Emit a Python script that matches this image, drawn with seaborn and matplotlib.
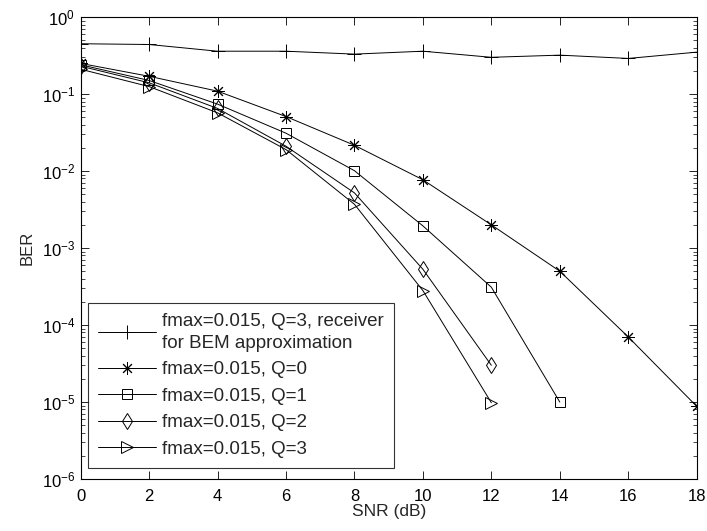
import numpy as np
import pandas as pd
import matplotlib
matplotlib.use("Agg")
import matplotlib.pyplot as plt
import seaborn as sns
from matplotlib.ticker import LogLocator, FixedLocator, NullFormatter

snr_full = [0, 2, 4, 6, 8, 10, 12, 14, 16, 18]
ber_bem = [0.45, 0.44, 0.36, 0.36, 0.33, 0.36, 0.30, 0.32, 0.29, 0.35]
snr_q0 = [0, 2, 4, 6, 8, 10, 12, 14, 16, 18]
ber_q0 = [0.25, 0.17, 0.109, 0.051, 0.0216, 0.0077, 0.0020, 5.0e-4, 7.0e-5, 8.8e-6]
snr_q1 = [0, 2, 4, 6, 8, 10, 12, 14]
ber_q1 = [0.24, 0.15, 0.074, 0.031, 0.0101, 0.00194, 3.1e-4, 1.0e-5]
snr_q2 = [0, 2, 4, 6, 8, 10, 12]
ber_q2 = [0.23, 0.14, 0.065, 0.021, 0.0052, 5.3e-4, 3.0e-5]
snr_q3 = [0, 2, 4, 6, 8, 10, 12]
ber_q3 = [0.21, 0.125, 0.057, 0.019, 0.0037, 2.8e-4, 9.8e-6]

labels = ["fmax=0.015, Q=3, receiver\nfor BEM approximation",
          "fmax=0.015, Q=0", "fmax=0.015, Q=1",
          "fmax=0.015, Q=2", "fmax=0.015, Q=3"]
markers = ["+", (8, 2, 0), "s", "d", ">"]
xticks = list(range(0, 19, 2))

sns.set_theme(style="white")
plt.rcParams['font.family'] = ['Liberation Sans', 'DejaVu Sans']
plt.rcParams['mathtext.fontset'] = 'custom'
plt.rcParams['mathtext.rm'] = 'Liberation Sans'

fig = plt.figure(figsize=(7.07, 5.31), dpi=100)
ax = fig.add_axes([0.1141, 0.0979, 0.8713, 0.870])

series = [(snr_full, ber_bem), (snr_q0, ber_q0), (snr_q1, ber_q1),
          (snr_q2, ber_q2), (snr_q3, ber_q3)]
msizes = [10, 9, 7, 8, 8]
for (x, y), lab, m, ms in zip(series, labels, markers, msizes):
    df = pd.DataFrame({"SNR": x, "BER": y})
    sns.lineplot(data=df, x="SNR", y="BER", ax=ax, color="black", lw=0.7,
                 marker=m, markersize=ms, markerfacecolor="none",
                 markeredgecolor="black", markeredgewidth=0.7, label=lab)

ax.set_yscale("log")
ax.set_xlim(0, 18)
ax.set_ylim(1e-6, 1)
ax.xaxis.set_major_locator(FixedLocator(xticks))
ax.yaxis.set_major_locator(LogLocator(base=10, numticks=10))
ax.yaxis.set_minor_locator(LogLocator(base=10, subs=np.arange(2, 10), numticks=20))
ax.yaxis.set_minor_formatter(NullFormatter())
ax.tick_params(which="both", direction="in", top=True, right=True,
               bottom=True, left=True, labelsize=12, colors="black")
ax.tick_params(which="major", length=6, width=0.6)
ax.tick_params(which="minor", length=3, width=0.5)
ax.tick_params(axis="x", which="major", pad=7)
ax.tick_params(axis="y", which="major", pad=4)
for s in ax.spines.values():
    s.set_color("black")
    s.set_linewidth(0.8)
ax.set_xlabel("SNR (dB)", fontsize=12.5, labelpad=0)
ax.set_ylabel("BER", fontsize=12, labelpad=5)

leg = ax.legend(loc="lower left", bbox_to_anchor=(0.0114, 0.0238), fontsize=13.5,
                handlelength=3.1, frameon=True, fancybox=False,
                edgecolor="black", borderpad=0.55, labelspacing=0.5,
                handletextpad=0.3, borderaxespad=0.0)
leg.get_frame().set_linewidth(0.8)
leg.get_texts()[0].set_linespacing(1.35)

fig.savefig("out.png", dpi=100)
